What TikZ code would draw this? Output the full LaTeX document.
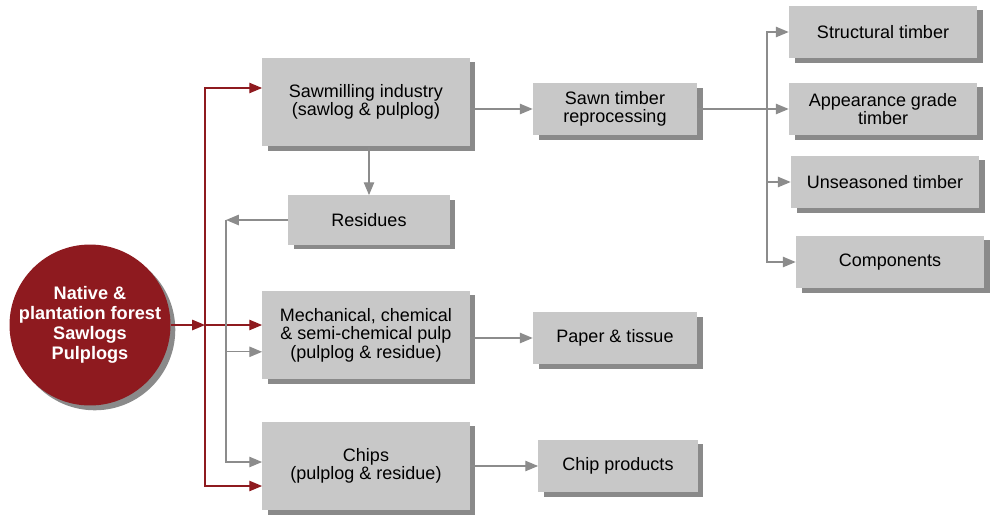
\documentclass[tikz,border=0pt]{standalone}
\usepackage{fontspec}
\setmainfont{Liberation Sans}
\usetikzlibrary{arrows.meta,positioning,shadows}
\definecolor{Maroon}{HTML}{8E1A1F}
\definecolor{BoxGrey}{HTML}{C8C8C8}
\definecolor{ShadowGrey}{HTML}{8A8A8A}
\definecolor{LineGrey}{HTML}{8C8C8C}

\begin{document}
\begin{tikzpicture}[
  x=0.025cm, y=-0.025cm,
  box/.style={
    fill=BoxGrey,
    drop shadow={shadow xshift=1.4mm, shadow yshift=-1.2mm, fill=ShadowGrey, opacity=1},
    align=center,
    inner sep=1mm,
    font=\fontsize{12.8}{13.2}\selectfont
  },
  bigbox/.style={box, minimum width=5.18cm, minimum height=2.22cm},
  midbox/.style={box, minimum width=4.1cm, minimum height=1.3cm},
  endbox/.style={box, minimum width=4.7cm, minimum height=1.32cm},
  forest/.style={
    circle,
    fill=Maroon,
    minimum size=4cm,
    inner sep=0pt,
    drop shadow={shadow xshift=1.2mm, shadow yshift=-1.2mm, fill=ShadowGrey, opacity=1},
    align=center,
    text=white,
    font=\fontsize{12.9}{14.2}\selectfont\bfseries
  },
  redarrow/.style={-{Triangle[length=3.2mm,width=2.6mm]}, line width=0.9pt, color=Maroon},
  greyarrow/.style={-{Triangle[length=3.2mm,width=2.6mm]}, line width=0.9pt, color=LineGrey}
]
\useasboundingbox (0,0) rectangle (992,514);

\node[forest] (source) at (90,325) {Native \&\\plantation forest\\Sawlogs\\Pulplogs};

\node[bigbox] (sawmill) at (366,102) {Sawmilling industry\\(sawlog \& pulplog)};
\node[box, minimum width=4.03cm, minimum height=1.23cm] (residues) at (369,220) {Residues};
\node[bigbox] (pulp) at (366,335) {Mechanical, chemical\\\& semi-chemical pulp\\(pulplog \& residue)};
\node[bigbox] (chips) at (366,466) {Chips\\(pulplog \& residue)};

\node[midbox] (sawn) at (615,109) {Sawn timber\\reprocessing};
\node[midbox] (paper) at (615,338) {Paper \& tissue};
\node[box, minimum width=3.98cm, minimum height=1.32cm] (chipprod) at (618,466) {Chip products};

\node[endbox] (structural) at (883,32) {Structural timber};
\node[endbox] (appearance) at (883,109) {Appearance grade\\timber};
\node[endbox] (unseasoned) at (885,182) {Unseasoned timber};
\node[endbox] (components) at (890,262) {Components};

\coordinate (redbus) at (205,325);
\coordinate (greybus) at (226,220);
\coordinate (timberbus) at (767,109);

% forest supply
\draw[redarrow] (source) -- (redbus);
\draw[redarrow] (redbus) -- (redbus -| pulp.west);
\draw[redarrow] (redbus) |- ([yshift=0.35cm]sawmill.west);
\draw[redarrow] (redbus) |- ([yshift=-0.5cm]chips.west);

% residues loop
\draw[greyarrow] (sawmill.south -| residues.north) -- (residues.north);
\draw[greyarrow] (residues.west) -- (greybus);
\draw[greyarrow] (greybus) |- ([yshift=-0.42cm]pulp.west);
\draw[greyarrow] (greybus) |- ([yshift=0.1cm]chips.west);

% products
\draw[greyarrow] (sawn.west -| sawmill.east) -- (sawn.west);
\draw[greyarrow] (paper.west -| pulp.east) -- (paper.west);
\draw[greyarrow] (chipprod.west -| chips.east) -- (chipprod.west);

% timber products
\draw[LineGrey, line width=0.9pt] (sawn.east) -- (timberbus);
\draw[greyarrow] (timberbus) |- (structural.west);
\draw[greyarrow] (timberbus) -- (appearance.west);
\draw[greyarrow] (timberbus) |- (unseasoned.west);
\draw[greyarrow] (timberbus) |- (components.west);
\end{tikzpicture}
\end{document}
